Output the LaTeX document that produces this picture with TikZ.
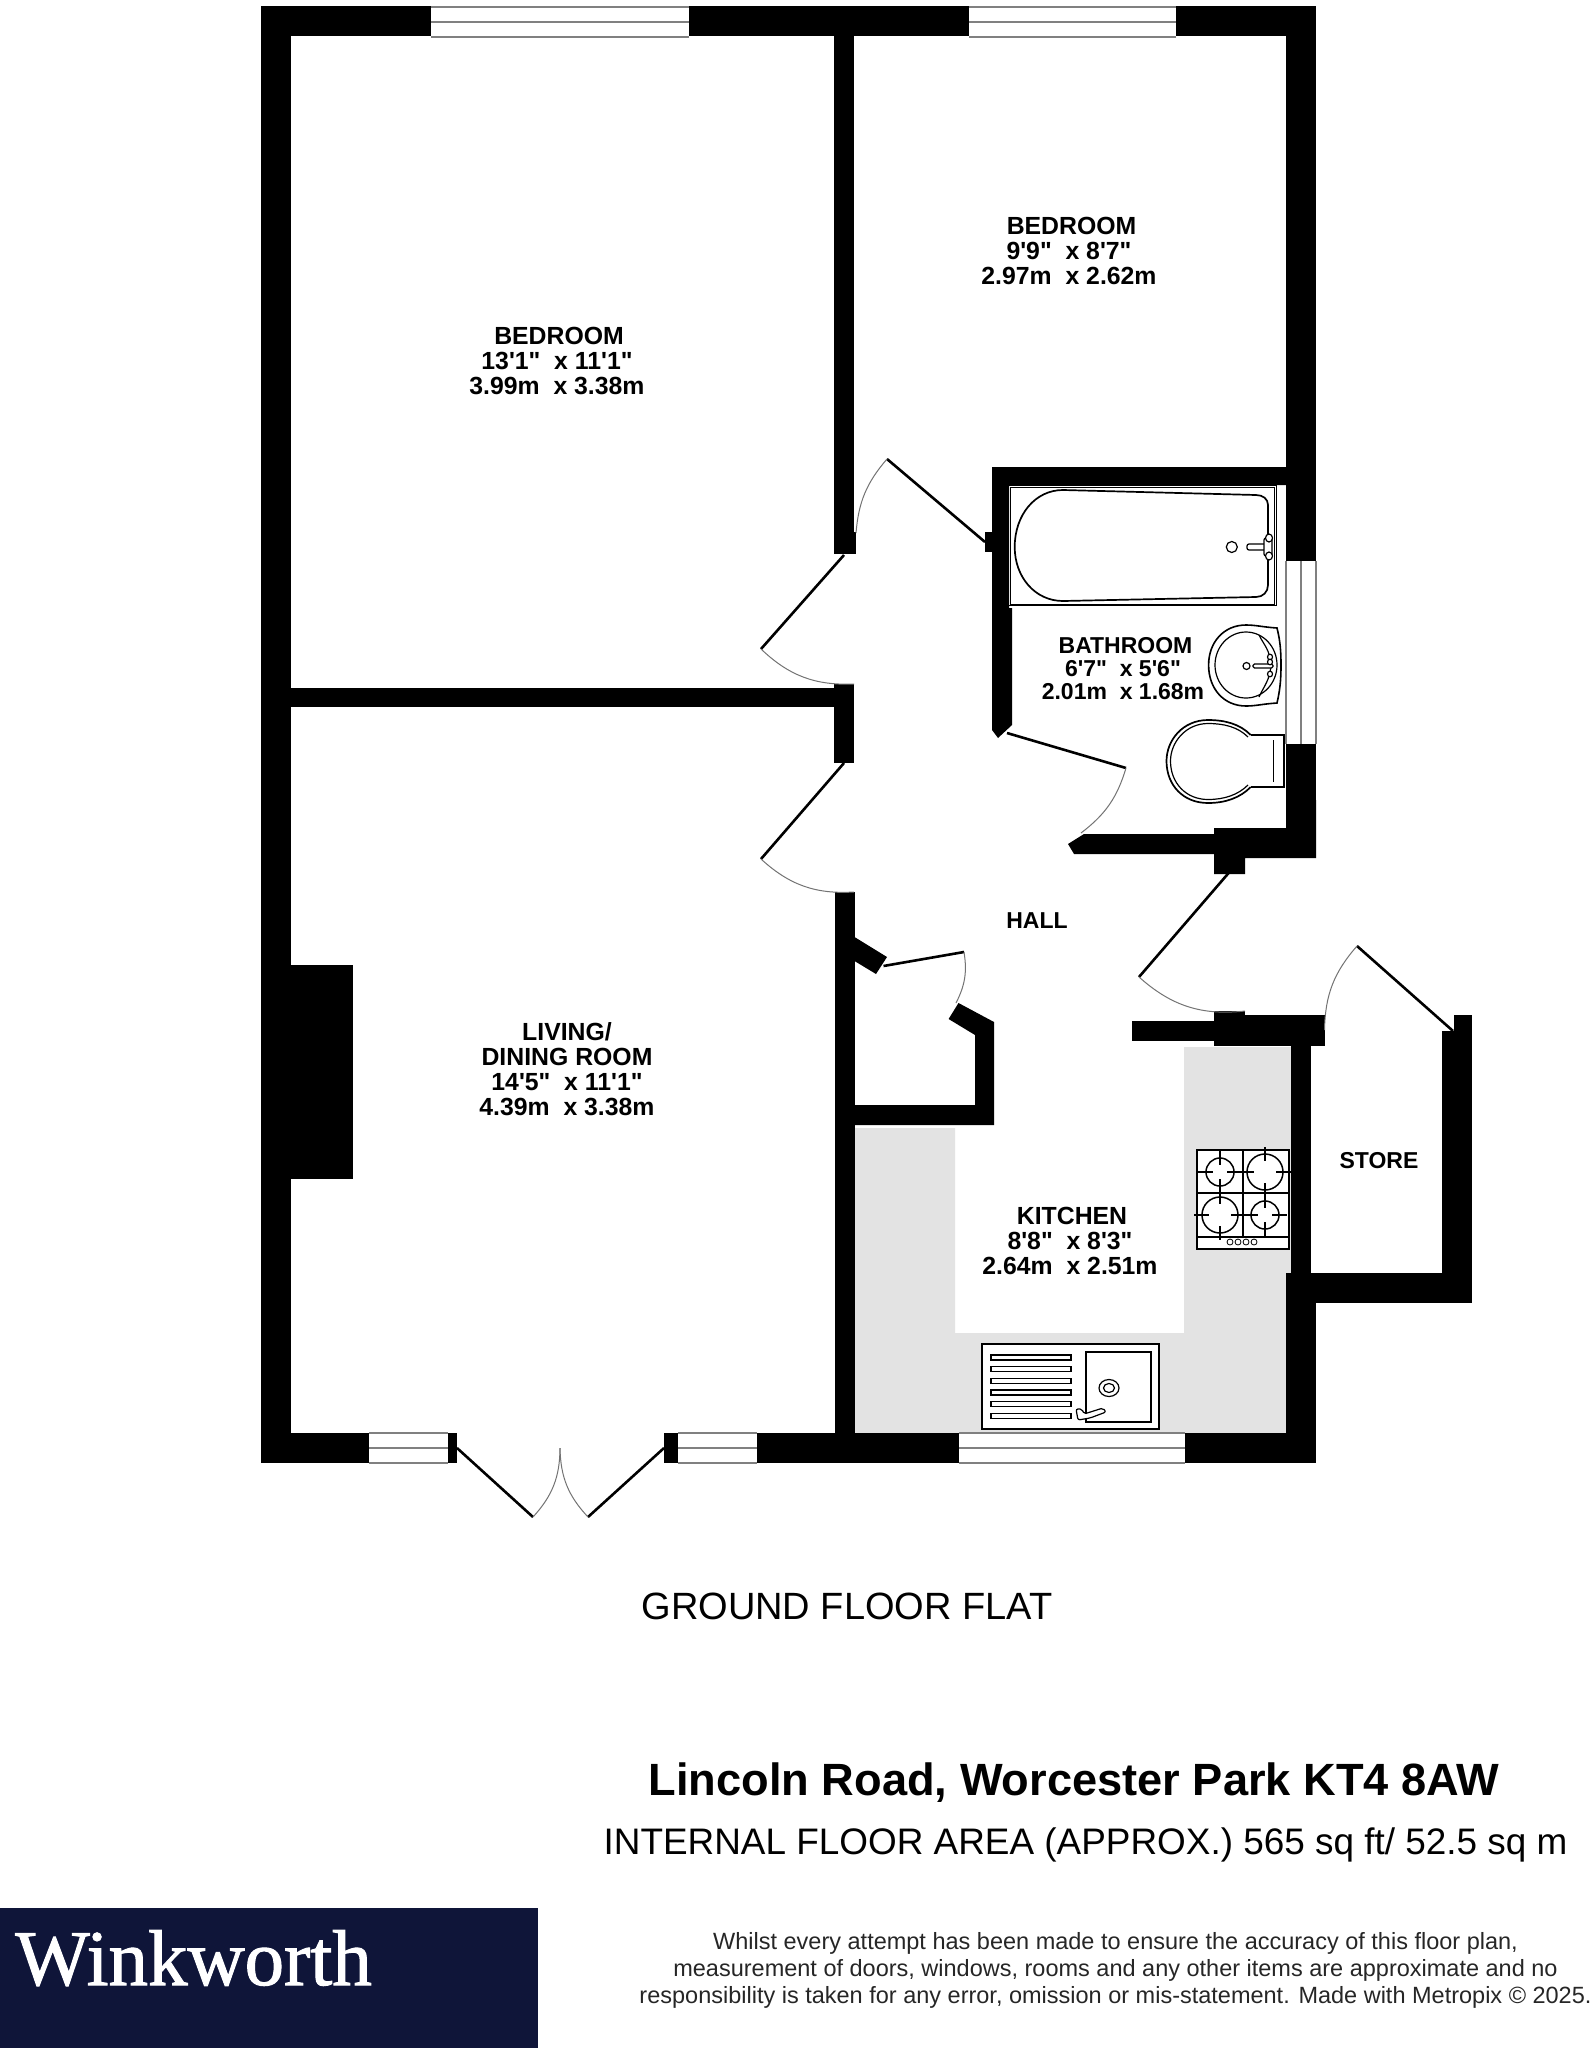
\documentclass[tikz,border=0pt]{standalone}
\usepackage{fontspec}
\newfontfamily\lib{Liberation Sans}
\newfontfamily\libser[FakeBold=1.3]{Liberation Serif}
\newcommand{\fs}[1]{\fontsize{#1}{#1}\selectfont}
\tikzset{
  wall/.style={fill=black,draw=none},
  leaf/.style={draw=black,line width=2.6pt},
  swing/.style={draw=black!55,line width=1pt},
  winbar/.style={draw=black!50,line width=2pt},
  fitting/.style={draw=black,line width=1.6pt,fill=white},
  fine/.style={draw=black,line width=1.2pt},
  room/.style={font=\lib\bfseries\fs{24.8},align=center,inner sep=0pt},
  roomsm/.style={font=\lib\bfseries\fs{23},align=center,inner sep=0pt},
}
\newcommand{\hwin}[3]{% x1,x2,ytop
  \draw[winbar] (#1,#3) -- (#2,#3);
  \draw[winbar] (#1,#3+15) -- (#2,#3+15);
  \draw[winbar] (#1,#3+30) -- (#2,#3+30);
}
\begin{document}
\begin{tikzpicture}[x=1pt,y=-1pt]
\useasboundingbox (0,0) rectangle (1593,2048);
\fill[white] (0,0) rectangle (1593,2048);
% kitchen worktops
\fill[black!11] (854,1128) -- (955,1128) -- (955,1333) -- (1184,1333) -- (1184,1047) -- (1291,1047) -- (1291,1273) -- (1286,1273) -- (1286,1433) -- (854,1433) -- cycle;
% outer walls
\fill[wall] (261,6) rectangle (431,36);
\fill[wall] (689,6) rectangle (969,36);
\fill[wall] (1176,6) rectangle (1316,36);
\fill[wall] (261,6) rectangle (291,1463);
\fill[wall] (1286,6) rectangle (1316,561);
\fill[wall] (1286,744) rectangle (1316,858);
\fill[wall] (261,1433) rectangle (369,1463);
\fill[wall] (448,1433) rectangle (457,1463);
\fill[wall] (664,1433) rectangle (678,1463);
\fill[wall] (757,1433) rectangle (959,1463);
\fill[wall] (1185,1433) rectangle (1316,1463);
% internal walls
\fill[wall] (834,36) rectangle (854,554);
\fill[wall] (854,532) rectangle (856,554);
\fill[wall] (291,688) rectangle (834,707);
\fill[wall] (834,684) rectangle (854,763);
\fill[wall] (835,892) rectangle (854.5,1463);
% chimney breast
\fill[wall] (291,965) rectangle (353,1179);
% bathroom walls
\fill[wall] (992,467) -- (1286,467) -- (1286,485) -- (1009,485) -- (1009,608) -- (1012,608) -- (1012,725) -- (998,738) -- (992,730) -- cycle;
\fill[wall] (985,532) rectangle (992,552);
\fill[wall] (1084,834) -- (1214,834) -- (1214,828) -- (1286,828) -- (1286,800) -- (1316,800) -- (1316,858) -- (1245,858) -- (1245,874) -- (1214,874) -- (1214,854) -- (1074,854) -- (1068,844) -- cycle;
% hall / store walls
\fill[wall] (1132,1021) rectangle (1214,1041);
\fill[wall] (1214,1011) rectangle (1245,1046);
\fill[wall] (1245,1015) rectangle (1324.5,1046);
\fill[wall] (1291,1046) rectangle (1311,1273);
\fill[wall] (1286,1273) rectangle (1316,1463);
\fill[wall] (1286,1273) rectangle (1472,1303);
\fill[wall] (1441.5,1031) rectangle (1472,1303);
\fill[wall] (1454,1015) rectangle (1472,1031);
% closet
\fill[wall] (854.5,937) -- (887,957) -- (876,974) -- (854.5,961) -- cycle;
\fill[wall] (958.5,1003) -- (994,1022) -- (994,1125) -- (835,1125) -- (835,1105) -- (975,1105) -- (975,1035) -- (948.6,1019) -- cycle;
% windows
\hwin{431}{689}{7}
\hwin{969}{1176}{7}
\hwin{369}{448}{1433}
\hwin{678}{757}{1433}
\hwin{959}{1185}{1433}
\draw[winbar] (1286,561) -- (1286,744);
\draw[winbar] (1301,561) -- (1301,744);
\draw[winbar] (1316,561) -- (1316,744);
% doors
\draw[leaf] (985,542) -- (887,459);
\draw[swing] (887,459) to[bend right=18] (856,533);
\draw[leaf] (844,555) -- (761,649);
\draw[swing] (761,649) to[bend right=23] (854,684);
\draw[leaf] (844,763) -- (761,859);
\draw[swing] (761,859) to[bend right=23] (854,892);
\draw[leaf] (1007,733) -- (1126,768);
\draw[swing] (1126,768) to[bend left=18] (1081,833);
\draw[leaf] (1228.6,873) -- (1139,977);
\draw[swing] (1139,977) to[bend right=24] (1245,1011);
\draw[leaf] (1453,1031) -- (1357,946);
\draw[swing] (1357,946) to[bend right=20] (1324.5,1030);
\draw[leaf] (883.5,966) -- (964,952);
\draw[swing] (964,952) to[bend left=18] (956,1003);
\draw[leaf] (457,1448) -- (533,1517);
\draw[swing] (533,1517) to[bend right=21] (560,1448);
\draw[leaf] (664,1448) -- (588,1517);
\draw[swing] (588,1517) to[bend left=21] (560,1448);
% bath
\draw[draw=black,line width=1pt] (1008.7,485) rectangle (1276,605.7);
\draw[draw=black,line width=1pt] (1010.5,487) rectangle (1274.5,604);
\draw[fine,line width=1.7pt] (1063,490) -- (1256,495) .. controls (1263,495) and (1268,499) .. (1268,505) -- (1268,585) .. controls (1268,592) and (1263,597) .. (1256,597) -- (1063,601) .. controls (1035,601) and (1014.7,577) .. (1014.7,547) .. controls (1014.7,515) and (1035,490) .. (1063,490) -- cycle;
\draw[fine] (1231.8,547) circle[radius=5.5];
\draw[fine,fill=white,rounded corners=2pt] (1247,544) rectangle (1270,550);
\draw[fine,fill=white,rounded corners=2pt] (1264,538) rectangle (1272,556);
\draw[fine,fill=white] (1269,538) ellipse[x radius=3.5,y radius=4];
\draw[fine,fill=white] (1269,556) ellipse[x radius=3.5,y radius=4];
% basin
\draw[fitting] (1277,628) .. controls (1262,627) and (1256,625) .. (1246,625) .. controls (1224,625) and (1208.6,642) .. (1208.6,665) .. controls (1208.6,689) and (1224,706) .. (1246,706) .. controls (1256,706) and (1262,704) .. (1277,703) .. controls (1280,690) and (1281,680) .. (1281,665) .. controls (1281,650) and (1280,640) .. (1277,628) -- cycle;
\draw[fine] (1246,665) ellipse[x radius=31,y radius=33];
\draw[fine] (1259,635) .. controls (1264,645) and (1270,650) .. (1271,665) .. controls (1270,680) and (1264,686) .. (1259,697);
\draw[fine] (1246.5,666) circle[radius=3.5];
\draw[fine,fill=white,rounded corners=1.5pt] (1253,664) rectangle (1273,668);
\draw[fine,fill=white] (1270,657) ellipse[x radius=2.5,y radius=2.8];
\draw[fine,fill=white] (1270,662) ellipse[x radius=2.5,y radius=2.8];
\draw[fine,fill=white] (1270,674) ellipse[x radius=2.5,y radius=2.8];
% toilet
\draw[fitting,line width=1.3pt] (1250.7,735) -- (1284,735) -- (1284,787) -- (1250.7,787);
\draw[fine] (1273.5,740) -- (1273.5,782);
\draw[fitting,line width=1.7pt] (1250.7,735) .. controls (1240,724) and (1225,720) .. (1208,720) .. controls (1183,720) and (1166.5,740) .. (1166.5,761) .. controls (1166.5,785) and (1183,803) .. (1208,803) .. controls (1225,803) and (1240,798) .. (1250.7,787);
\draw[fine] (1248,737) .. controls (1238,727) and (1224,723.5) .. (1208,723.5) .. controls (1186,723.5) and (1170.5,742) .. (1170.5,761) .. controls (1170.5,783) and (1186,799.5) .. (1208,799.5) .. controls (1224,799.5) and (1238,795) .. (1248,785);
% hob
\draw[draw=black,line width=1.8pt,fill=white] (1197,1150) rectangle (1289,1249);
\draw[fine] (1243,1150) -- (1243,1237);
\draw[fine] (1197,1193) -- (1289,1193);
\draw[fine] (1197,1237) -- (1289,1237);
\foreach \cx/\cy/\r in {1220/1172/14,1265/1172/18,1220/1215/18,1265/1215/14}{
  \draw[draw=black,line width=1.5pt,fill=white] (\cx,\cy) circle[radius=\r];
  \draw[fine] (\cx-\r-8,\cy) -- (\cx-\r+7,\cy);
  \draw[fine] (\cx+\r-7,\cy) -- (\cx+\r+8,\cy);
  \draw[fine] (\cx,\cy-\r-7) -- (\cx,\cy-\r+7);
  \draw[fine] (\cx,\cy+\r-7) -- (\cx,\cy+\r+7);
}
\foreach \kx in {1230,1238,1246,1254}{\draw[draw=black,line width=.8pt] (\kx,1242) circle[radius=3];}
% sink
\draw[draw=black,line width=2.6pt,fill=white] (982,1344) rectangle (1159,1429);
\draw[fine] (1086,1352) rectangle (1151,1422);
\foreach \gy in {1355,1366.7,1378.4,1390,1401.7,1413.4}{\draw[fine] (991,\gy) rectangle (1071,\gy+5);}
\draw[fine] (1109,1388) ellipse[x radius=10,y radius=8.5];
\draw[fine] (1109,1388) ellipse[x radius=5.5,y radius=4.5];
\draw[fine,fill=white,rounded corners=2pt] (1076,1409) -- (1082,1409) -- (1084,1414) -- (1103,1408) -- (1106,1412) -- (1090,1418) -- (1078,1420) -- cycle;
% room labels
\node[room] (bed1) at (557,361) {\kern4pt BEDROOM\\13'1"\ \ x 11'1"\\3.99m\ \ x 3.38m};
\node[room] (bed2) at (1069,251) {\kern5pt BEDROOM\\9'9"\ \ x 8'7"\\2.97m\ \ x 2.62m};
\node[room] (living) at (567,1069) {LIVING/\\DINING ROOM\\14'5"\ \ x 11'1"\\4.39m\ \ x 3.38m};
\node[roomsm] (bath) at (1123,669) {\kern5pt BATHROOM\\6'7"\ \ x 5'6"\\2.01m\ \ x 1.68m};
\node[room] (kit) at (1070,1241) {\kern4pt KITCHEN\\8'8"\ \ x 8'3"\\2.64m\ \ x 2.51m};
\node[roomsm] (hall) at (1037,921) {HALL};
\node[roomsm] (store) at (1379,1161) {STORE};
% titles
\node[font=\lib\fs{38},inner sep=0pt] (floor) at (847,1606.5) {GROUND FLOOR FLAT};
\node[font=\lib\bfseries\fs{45.2},inner sep=0pt] (addr) at (1074,1783) {Lincoln Road, Worcester Park KT4 8AW};
\node[font=\lib\fs{36.9},inner sep=0pt] (area) at (1085.5,1845) {INTERNAL FLOOR AREA (APPROX.) 565 sq ft/ 52.5 sq m};
% footer
\fill[fill={rgb,255:red,15;green,21;blue,57}] (0,1908) rectangle (538,2048);
\node[font=\libser\fs{79},text=white,inner sep=0pt,anchor=base west] (logo) at (15,1985) {Winkworth};
\node[font=\lib\fs{23.5},align=center,inner sep=0pt,text=black!85] (disc) at (1115.5,1970) {Whilst every attempt has been made to ensure the accuracy of this floor plan,\\[3.5pt]measurement of doors, windows, rooms and any other items are approximate and no\\[3.5pt]responsibility is taken for any error, omission or mis-statement. Made with Metropix © 2025.};
\end{tikzpicture}
\end{document}
